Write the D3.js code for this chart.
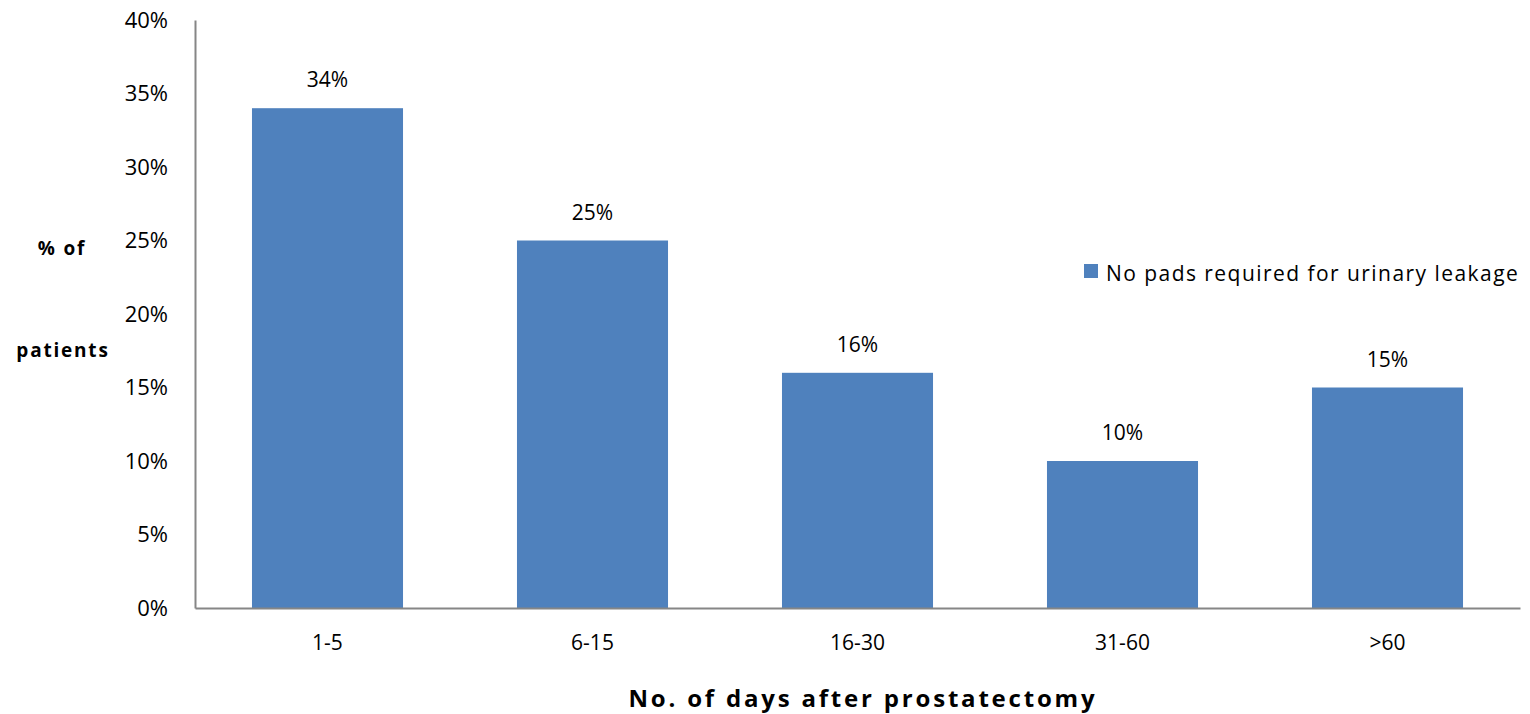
<!DOCTYPE html>
<html><head><meta charset="utf-8">
<script src="https://cdn.jsdelivr.net/npm/d3@7"></script>
<style>body{margin:0;background:#fff}svg{display:block}text{font-family:"Open Sans",Lato,sans-serif;fill:#000}</style>
</head><body><svg id="c" width="1530" height="714"></svg>
<script>
const categories = ["1-5","6-15","16-30","31-60",">60"];
const values = [34,25,16,10,15];
const yTicks = [0,5,10,15,20,25,30,35,40];
const seriesName = "No pads required for urinary leakage";
const xTitle = "No. of days after prostatectomy";
const yTitle = ["% of","patients"];

const svg = d3.select("#c");
const x = d3.scaleBand().domain(categories).range([195,1520]).paddingInner(0.43).paddingOuter(0.215);
const y = d3.scaleLinear().domain([0,40]).range([608,20]);

svg.selectAll("rect.bar").data(values).join("rect").attr("class","bar")
  .attr("x",(d,i)=>x(categories[i])).attr("width",x.bandwidth())
  .attr("y",d=>y(d)).attr("height",d=>y(0)-y(d)).attr("fill","#4f81bd");

const ya = svg.append("g").attr("transform","translate(195,0)")
  .call(d3.axisLeft(y).tickValues(yTicks).tickFormat(d=>d+"%").tickSize(0).tickPadding(27));
ya.select(".domain").attr("stroke","#868686").attr("stroke-width",2);
ya.selectAll("text").style("font-size","22px").style("font-family","'Open Sans',sans-serif").attr("fill","#000");

const xa = svg.append("g").attr("transform","translate(0,608)")
  .call(d3.axisBottom(x).tickSize(0).tickPadding(27));
xa.select(".domain").attr("stroke","#868686").attr("stroke-width",2);
xa.selectAll("text").style("font-size","21px").style("font-family","'Open Sans',sans-serif").attr("fill","#000");

svg.selectAll("text.lab").data(values).join("text").attr("class","lab")
  .attr("x",(d,i)=>x(categories[i])+x.bandwidth()/2).attr("y",d=>y(d)-21)
  .attr("text-anchor","middle").style("font-size","21px").text(d=>d+"%");

svg.append("rect").attr("x",1084).attr("y",264).attr("width",14).attr("height",14).attr("fill","#4f81bd");
svg.append("text").attr("x",1106).attr("y",281).style("font-size","21px").style("letter-spacing","1.45px").text(seriesName);

svg.append("text").attr("x",863).attr("y",707).attr("text-anchor","middle")
  .style("font-size","24px").style("font-weight","bold").style("letter-spacing","2.8px").text(xTitle);

svg.append("text").attr("x",62).attr("y",255).attr("text-anchor","middle")
  .style("font-size","19px").style("font-weight","bold").style("letter-spacing","1.8px").text(yTitle[0]);
svg.append("text").attr("x",63).attr("y",357).attr("text-anchor","middle")
  .style("font-size","19px").style("font-weight","bold").style("letter-spacing","1.8px").text(yTitle[1]);
</script></body></html>
